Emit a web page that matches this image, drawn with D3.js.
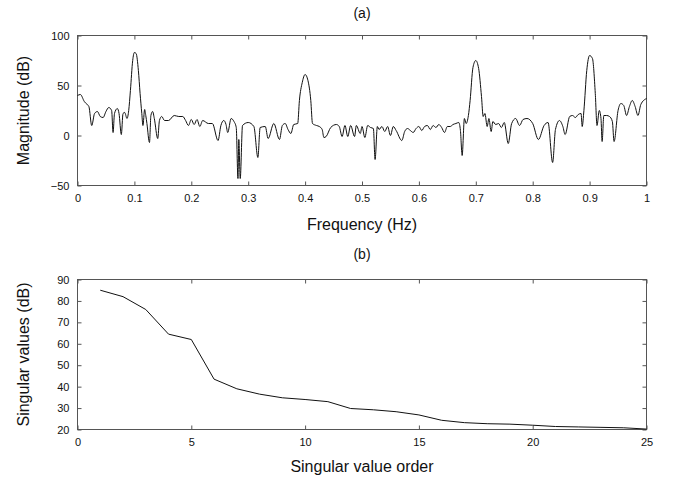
<!DOCTYPE html>
<html><head><meta charset="utf-8">
<script src="https://cdn.jsdelivr.net/npm/d3@7"></script>
<style>
body{margin:0;background:#fff;}
svg{display:block;}
text{font-family:"Liberation Sans",Arial,sans-serif;fill:#111;}
</style></head>
<body>
<script>
// ---- Data ----
const freqHz = [0,0.005,0.012,0.015,0.02,0.025,0.03,0.035,0.04,0.045,0.05,0.055,0.06,0.0625,0.065,0.07,0.073,0.077,0.08,0.083,0.087,0.09,0.093,0.097,0.1,0.103,0.107,0.11,0.113,0.115,0.118,0.12,0.122,0.1265,0.129,0.132,0.135,0.141,0.144,0.148,0.153,0.16,0.17,0.178,0.185,0.19,0.195,0.2,0.205,0.21,0.215,0.22,0.23,0.237,0.247,0.252,0.257,0.261,0.264,0.27,0.275,0.279,0.282,0.2835,0.286,0.29,0.3,0.31,0.317,0.321,0.33,0.335,0.345,0.355,0.36,0.365,0.37,0.375,0.38,0.387,0.39,0.395,0.4,0.405,0.41,0.413,0.42,0.425,0.43,0.433,0.437,0.445,0.455,0.46,0.465,0.47,0.475,0.48,0.487,0.49,0.497,0.5,0.505,0.51,0.515,0.52,0.523,0.527,0.53,0.535,0.54,0.545,0.55,0.555,0.56,0.57,0.575,0.58,0.585,0.59,0.595,0.6,0.605,0.61,0.615,0.62,0.625,0.63,0.635,0.64,0.645,0.65,0.655,0.66,0.665,0.67,0.673,0.676,0.68,0.683,0.687,0.69,0.695,0.7,0.705,0.71,0.713,0.716,0.72,0.723,0.727,0.73,0.735,0.74,0.745,0.75,0.757,0.763,0.77,0.777,0.783,0.79,0.8,0.81,0.82,0.827,0.835,0.84,0.847,0.853,0.857,0.865,0.87,0.875,0.88,0.885,0.887,0.89,0.895,0.9,0.905,0.91,0.913,0.917,0.92,0.922,0.925,0.93,0.935,0.94,0.943,0.95,0.955,0.96,0.965,0.97,0.975,0.98,0.985,0.99,1.0];
const magnitudeDb = [40,41,34,32,29,10,22,24,19,18,24,28,25,3,22,27,22,1,22,23,17,25,45,75,83,82,65,42,22,10,26,20,12,-7,20,24,17,-3,15,19,15,15,20,19,19,15,10,16,11,16,9,15,12,12,-5,10,15,11,3,17,14,8,-43,-4,-43,10,13,9,-22,8,9,-3,12,-4,10,12,6,2,11,12,35,53,61,55,35,12,10,9,6,-2,-1,8,11,9,-1,10,-1,10,-1,10,2,9,-2,10,8,7,-24,9,6,9,4,9,0,9,5,-5,4,7,5,3,7,9,5,9,10,6,10,8,11,8,3,9,9,11,12,13,5,-20,17,12,20,35,68,75,67,39,19,22,9,17,4,14,11,12,8,13,-8,12,17,10,16,17,12,-4,10,13,-27,6,15,9,1,19,20,18,21,22,9,25,65,80,77,42,10,25,17,-6,20,20,19,14,-6,25,32,30,20,29,35,29,20,31,37];

const svOrder  = [1,2,3,4,5,6,7,8,9,10,11,12,13,14,15,16,17,18,19,20,21,22,23,24,25];
const svValues = [85,82,76,64.5,62,43.5,39,36.5,34.8,34,33,29.8,29.2,28.3,26.8,24.3,23.2,22.7,22.5,22,21.4,21.2,21,20.8,20.2];

const freqTicks = [0,0.1,0.2,0.3,0.4,0.5,0.6,0.7,0.8,0.9,1];
const magTicks  = [-50,0,50,100];
const orderTicks = [0,5,10,15,20,25];
const svTicks   = [20,30,40,50,60,70,80,90];

// ---- Drawing ----
const W = 674, H = 478;
const svg = d3.select("body").append("svg").attr("width", W).attr("height", H);

function panel(opts){
  const {x0,x1,y0,y1,xDom,yDom,xTicks,yTicks,xFmt,title,titleY,xLabel,xLabelY,yLabel,xs,ys,curve} = opts;
  const x = d3.scaleLinear().domain(xDom).range([x0,x1]);
  const y = d3.scaleLinear().domain(yDom).range([y1,y0]);
  const g = svg.append("g");
  const tl = 4;
  // inner ticks on all sides
  const axB = d3.axisBottom(x).tickValues(xTicks).tickSize(-tl).tickPadding(9).tickFormat(xFmt);
  const axT = d3.axisTop(x).tickValues(xTicks).tickSize(-tl).tickFormat("");
  const axL = d3.axisLeft(y).tickValues(yTicks).tickSize(-tl).tickPadding(8).tickFormat(d3.format("d"));
  const axR = d3.axisRight(y).tickValues(yTicks).tickSize(-tl).tickFormat("");
  [[axB,`translate(0,${y1})`],[axT,`translate(0,${y0})`],[axL,`translate(${x0},0)`],[axR,`translate(${x1},0)`]].forEach(([a,t])=>{
    const ag = g.append("g").attr("transform",t).call(a);
    ag.select(".domain").remove();
    ag.selectAll(".tick line").attr("stroke","#555");
    ag.selectAll("text").style("font-size","11px").attr("fill","#222");
  });
  g.append("rect").attr("x",x0).attr("y",y0).attr("width",x1-x0).attr("height",y1-y0)
    .attr("fill","none").attr("stroke","#555").attr("stroke-width",1);
  const line = d3.line().x((d,i)=>x(xs[i])).y((d,i)=>y(ys[i])).curve(curve);
  g.append("path").datum(ys).attr("d",line).attr("fill","none").attr("stroke","#111").attr("stroke-width",1);
  g.append("text").attr("x",(x0+x1)/2).attr("y",titleY).attr("text-anchor","middle").style("font-size","14px").text(title);
  g.append("text").attr("x",(x0+x1)/2).attr("y",xLabelY).attr("text-anchor","middle").style("font-size","16px").text(xLabel);
  g.append("text").attr("transform",`translate(29,${(y0+y1)/2}) rotate(-90)`).attr("text-anchor","middle").style("font-size","16px").text(yLabel);
}

panel({x0:77.5,x1:646.5,y0:35.5,y1:185.5,xDom:[0,1],yDom:[-50,100],xTicks:freqTicks,yTicks:magTicks,
  xFmt:d=>d===0||d===1?String(d):d3.format(".1f")(d),
  title:"(a)",titleY:18,xLabel:"Frequency (Hz)",xLabelY:230,yLabel:"Magnitude (dB)",
  xs:freqHz,ys:magnitudeDb,curve:d3.curveMonotoneX});

panel({x0:77.5,x1:646.5,y0:279.5,y1:429.5,xDom:[0,25],yDom:[20,90],xTicks:orderTicks,yTicks:svTicks,
  xFmt:d3.format("d"),
  title:"(b)",titleY:259,xLabel:"Singular value order",xLabelY:472,yLabel:"Singular values (dB)",
  xs:svOrder,ys:svValues,curve:d3.curveLinear});
</script>
</body></html>
